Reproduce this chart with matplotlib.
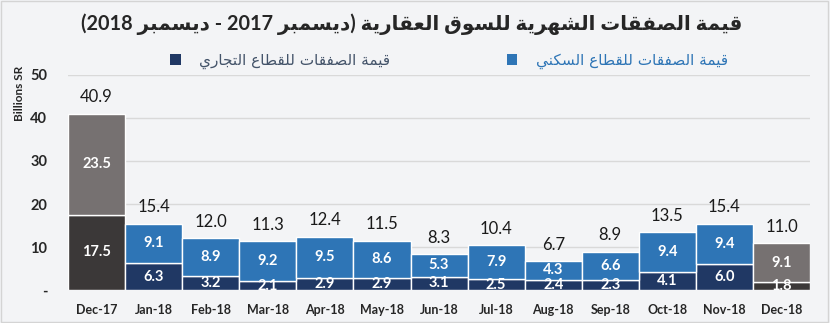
import re
import matplotlib
matplotlib.use('Agg')
import matplotlib.pyplot as plt
from matplotlib.patches import Patch, Rectangle

months = ['Dec-17', 'Jan-18', 'Feb-18', 'Mar-18', 'Apr-18', 'May-18', 'Jun-18',
          'Jul-18', 'Aug-18', 'Sep-18', 'Oct-18', 'Nov-18', 'Dec-18']
commercial = [17.5, 6.3, 3.2, 2.1, 2.9, 2.9, 3.1, 2.5, 2.4, 2.3, 4.1, 6.0, 1.8]
residential = [23.5, 9.1, 8.9, 9.2, 9.5, 8.6, 5.3, 7.9, 4.3, 6.6, 9.4, 9.4, 9.1]
totals = [40.9, 15.4, 12.0, 11.3, 12.4, 11.5, 8.3, 10.4, 6.7, 8.9, 13.5, 15.4, 11.0]

title_ar = 'قيمة الصفقات الشهرية للسوق العقارية (ديسمبر 2017 - ديسمبر 2018)'
label_res = 'قيمة الصفقات للقطاع السكني'
label_com = 'قيمة الصفقات للقطاع التجاري'

# Arabic presentation forms: isolated, final, initial, medial
FORMS = {
    'ا': (0xFE8D, 0xFE8E, None, None),
    'ب': (0xFE8F, 0xFE90, 0xFE91, 0xFE92),
    'ة': (0xFE93, 0xFE94, None, None),
    'ت': (0xFE95, 0xFE96, 0xFE97, 0xFE98),
    'ج': (0xFE9D, 0xFE9E, 0xFE9F, 0xFEA0),
    'د': (0xFEA9, 0xFEAA, None, None),
    'ر': (0xFEAD, 0xFEAE, None, None),
    'س': (0xFEB1, 0xFEB2, 0xFEB3, 0xFEB4),
    'ش': (0xFEB5, 0xFEB6, 0xFEB7, 0xFEB8),
    'ص': (0xFEB9, 0xFEBA, 0xFEBB, 0xFEBC),
    'ط': (0xFEC1, 0xFEC2, 0xFEC3, 0xFEC4),
    'ع': (0xFEC9, 0xFECA, 0xFECB, 0xFECC),
    'ف': (0xFED1, 0xFED2, 0xFED3, 0xFED4),
    'ق': (0xFED5, 0xFED6, 0xFED7, 0xFED8),
    'ك': (0xFED9, 0xFEDA, 0xFEDB, 0xFEDC),
    'ل': (0xFEDD, 0xFEDE, 0xFEDF, 0xFEE0),
    'م': (0xFEE1, 0xFEE2, 0xFEE3, 0xFEE4),
    'ن': (0xFEE5, 0xFEE6, 0xFEE7, 0xFEE8),
    'ه': (0xFEE9, 0xFEEA, 0xFEEB, 0xFEEC),
    'و': (0xFEED, 0xFEEE, None, None),
    'ي': (0xFEF1, 0xFEF2, 0xFEF3, 0xFEF4),
}


def shape(s):
    # no shaping engine in matplotlib: pick joined forms and lay out right to left
    out = []
    for i, c in enumerate(s):
        if c not in FORMS:
            out.append(c)
            continue
        prev = s[i - 1] if i > 0 else ''
        nxt = s[i + 1] if i + 1 < len(s) else ''
        jp = prev in FORMS and FORMS[prev][2] is not None
        jn = nxt in FORMS and FORMS[c][2] is not None
        f = FORMS[c]
        if jp and jn:
            g = f[3]
        elif jp:
            g = f[1]
        elif jn:
            g = f[2]
        else:
            g = f[0]
        out.append(chr(g))
    vis = ''.join(out)[::-1]
    vis = re.sub(r'\d+', lambda m: m.group(0)[::-1], vis)
    return vis.translate(str.maketrans('()', ')('))


bg = '#f3f4f6'
blue = '#2e75b6'
navy = '#203864'
gray_top = '#767171'
gray_bot = '#3b3838'

col_com = [gray_bot if m.startswith('Dec') else navy for m in months]
col_res = [gray_top if m.startswith('Dec') else blue for m in months]

fig = plt.figure(figsize=(8.3, 3.23), dpi=100, facecolor=bg)
fig.patches.append(Rectangle((0.001, 0.002), 0.997, 0.995, transform=fig.transFigure,
                             fill=False, edgecolor='#d4d4d4', linewidth=1))
ax = fig.add_axes([0.082, 0.102, 0.894, 0.666])
ax.set_facecolor(bg)

x = range(len(months))
ax.bar(x, commercial, width=1.0, color=col_com, edgecolor='white', linewidth=1, zorder=3)
ax.bar(x, residential, width=1.0, bottom=commercial, color=col_res, edgecolor='white',
       linewidth=1, zorder=3)

for i in x:
    ax.text(i, commercial[i] / 2, f'{commercial[i]:.1f}', ha='center', va='center',
            color='white', fontsize=10.5, fontweight='bold', family='Lato', zorder=4,
            clip_on=True)
    ax.text(i, commercial[i] + residential[i] / 2, f'{residential[i]:.1f}', ha='center',
            va='center', color='white', fontsize=10.5, fontweight='bold', family='Lato',
            zorder=4)
    ax.annotate(f'{totals[i]:.1f}', (i, commercial[i] + residential[i]), xytext=(0, 6),
                textcoords='offset points', ha='center', va='bottom', color='#1a1a1a',
                fontsize=12, family='Lato', zorder=4)

ax.set_xlim(-0.5, 12.5)
ax.set_ylim(0, 50)
ax.set_yticks([0, 10, 20, 30, 40, 50])
ax.set_yticklabels(['-', '10', '20', '30', '40', '50'])
ax.set_xticks(list(x))
ax.set_xticklabels(months)
ax.tick_params(axis='x', length=0, pad=10)
ax.tick_params(axis='y', length=0, pad=15)
for lab in ax.get_xticklabels() + ax.get_yticklabels():
    lab.set_family('Lato')
    lab.set_fontweight('bold')
    lab.set_color('#262626')
for lab in ax.get_xticklabels():
    lab.set_fontsize(9)
for lab in ax.get_yticklabels():
    lab.set_fontsize(10.5)
ax.grid(axis='y', color='#d9d9d9', linewidth=1, zorder=0)
for s in ax.spines.values():
    s.set_visible(False)

fig.text(0.024, 0.71, 'Billions SR', rotation=90, ha='center', va='center',
         fontsize=8.5, fontweight='bold', family='Lato', color='#262626')

fig.text(0.496, 0.925, shape(title_ar), ha='center', va='center', fontsize=14.3,
         fontweight='bold', family=['Lato', 'DejaVu Sans'], color='#262626')

handles = [Patch(facecolor=navy), Patch(facecolor=blue)]
leg = fig.legend(handles, [shape(label_com), shape(label_res)], ncol=2,
                 loc='center', bbox_to_anchor=(0.541, 0.812), frameon=False,
                 handlelength=0.7, handleheight=0.7, handletextpad=1.2,
                 columnspacing=7.6, prop={'family': 'DejaVu Sans', 'size': 11})
leg.get_texts()[0].set_color('#44546a')
leg.get_texts()[1].set_color(blue)

fig.savefig('out.png', dpi=100, facecolor=bg)
